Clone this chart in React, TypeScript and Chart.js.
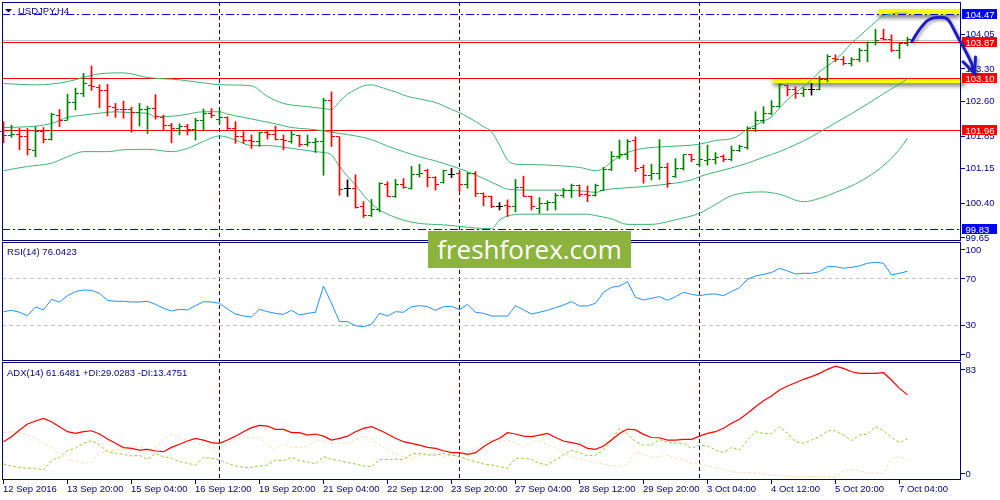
import React, { useEffect, useRef } from "react";
import { Chart, registerables } from "chart.js";

Chart.register(...registerables);

// ---------------- data ----------------
const symbolTitle = "USDJPY,H4";
const rsiTitle = "RSI(14) 76.0423";
const adxTitle = "ADX(14) 61.6481 +DI:29.0283 -DI:13.4751";
const watermark = "freshforex.com";

const xTickBars = [0, 8, 16, 24, 32, 40, 48, 56, 64, 72, 80, 88, 96, 104, 112];
const xTickLabels = [
  "12 Sep 2016", "13 Sep 20:00", "15 Sep 04:00", "16 Sep 12:00", "19 Sep 20:00",
  "21 Sep 04:00", "22 Sep 12:00", "23 Sep 20:00", "27 Sep 04:00", "28 Sep 12:00",
  "29 Sep 20:00", "3 Oct 04:00", "4 Oct 12:00", "5 Oct 20:00", "7 Oct 04:00",
];
const weekStartBars = [27, 57, 87];

const opens = [
  101.93, 101.84, 101.86, 101.82, 101.52, 101.93, 101.77, 102.29, 102.18, 102.56,
  102.76, 102.93, 102.89, 102.81, 102.46, 102.41, 102.40, 102.35, 102.40, 102.42,
  102.24, 102.07, 101.99, 102.04, 101.97, 102.17, 102.33, 102.20, 102.24, 102.00,
  101.82, 101.74, 101.72, 101.91, 101.86, 101.77, 101.72, 101.84, 101.66, 101.69,
  101.72, 102.60, 101.82, 100.71, 100.71, 100.31, 100.13, 100.25, 100.78, 100.54,
  100.80, 100.71, 101.00, 101.10, 100.94, 100.83, 101.01, 101.03, 100.78, 101.03,
  100.60, 100.53, 100.31, 100.33, 100.32, 100.73, 100.53, 100.28, 100.37, 100.40,
  100.56, 100.67, 100.76, 100.58, 100.56, 100.67, 101.12, 101.39, 101.43, 101.75,
  101.16, 100.99, 101.03, 101.16, 100.96, 101.14, 101.43, 101.23, 101.30, 101.33,
  101.39, 101.33, 101.52, 101.59, 102.00, 102.18, 102.33, 102.47, 102.92, 102.85,
  102.76, 102.84, 102.85, 103.05, 103.52, 103.48, 103.41, 103.48, 103.69, 103.85,
  103.95, 103.92, 103.69, 103.84,
];
const highs = [
  102.15, 102.07, 102.00, 102.00, 102.04, 102.02, 102.33, 102.41, 102.74, 102.87,
  103.19, 103.35, 102.94, 102.95, 102.54, 102.59, 102.46, 102.54, 102.48, 102.73,
  102.29, 102.11, 102.10, 102.09, 102.22, 102.42, 102.43, 102.40, 102.25, 102.15,
  101.93, 101.86, 101.92, 101.93, 102.05, 101.86, 101.95, 101.86, 101.86, 101.79,
  102.65, 102.79, 101.82, 100.89, 101.00, 100.42, 100.47, 100.83, 100.85, 100.90,
  100.92, 101.18, 101.23, 101.12, 100.96, 101.10, 101.14, 101.07, 101.05, 101.07,
  100.61, 100.54, 100.40, 100.46, 100.90, 100.97, 100.54, 100.51, 100.44, 100.60,
  100.71, 100.80, 100.78, 100.76, 100.80, 101.16, 101.50, 101.75, 101.76, 101.82,
  101.21, 101.23, 101.76, 101.25, 101.35, 101.44, 101.44, 101.62, 101.64, 101.48,
  101.43, 101.62, 101.64, 102.04, 102.36, 102.47, 102.60, 102.96, 102.94, 102.90,
  102.88, 102.97, 103.12, 103.59, 103.59, 103.55, 103.53, 103.73, 103.87, 104.14,
  104.14, 104.02, 103.85, 103.97,
];
const lows = [
  101.69, 101.81, 101.54, 101.43, 101.39, 101.69, 101.75, 102.04, 102.18, 102.40,
  102.69, 102.82, 102.45, 102.27, 102.24, 102.22, 101.92, 102.05, 101.89, 102.20,
  101.97, 101.69, 101.86, 101.86, 101.75, 101.97, 102.23, 102.10, 101.98, 101.68,
  101.68, 101.57, 101.61, 101.77, 101.75, 101.54, 101.68, 101.61, 101.62, 101.48,
  100.99, 101.61, 100.56, 100.53, 100.28, 100.08, 100.10, 100.20, 100.53, 100.51,
  100.71, 100.69, 100.95, 100.74, 100.67, 100.82, 100.94, 100.66, 100.71, 100.53,
  100.33, 100.29, 100.24, 100.10, 100.20, 100.53, 100.24, 100.17, 100.23, 100.24,
  100.51, 100.51, 100.53, 100.42, 100.54, 100.66, 101.09, 101.35, 101.33, 101.07,
  100.82, 100.89, 100.90, 100.73, 100.94, 101.10, 101.28, 101.19, 101.21, 101.23,
  101.28, 101.30, 101.50, 101.55, 101.93, 102.11, 102.29, 102.46, 102.70, 102.65,
  102.69, 102.72, 102.83, 103.01, 103.44, 103.37, 103.35, 103.44, 103.44, 103.80,
  103.91, 103.66, 103.51, 103.78,
];
const closes = [
  101.84, 101.86, 101.82, 101.54, 101.93, 101.77, 102.31, 102.17, 102.56, 102.76,
  102.97, 102.90, 102.82, 102.47, 102.41, 102.40, 102.35, 102.40, 102.43, 102.25,
  102.07, 101.99, 102.04, 101.98, 102.17, 102.33, 102.29, 102.23, 102.00, 101.82,
  101.74, 101.72, 101.91, 101.86, 101.77, 101.75, 101.86, 101.66, 101.69, 101.72,
  102.61, 101.82, 100.69, 100.71, 100.29, 100.13, 100.25, 100.81, 100.54, 100.80,
  100.73, 101.01, 101.03, 100.94, 100.78, 101.09, 101.01, 100.78, 101.03, 100.60,
  100.53, 100.31, 100.31, 100.32, 100.73, 100.54, 100.31, 100.38, 100.40, 100.56,
  100.67, 100.76, 100.58, 100.56, 100.76, 101.12, 101.39, 101.43, 101.71, 101.14,
  100.99, 101.03, 101.16, 100.81, 101.14, 101.43, 101.32, 101.32, 101.33, 101.37,
  101.33, 101.52, 101.62, 102.00, 102.18, 102.33, 102.47, 102.94, 102.85, 102.76,
  102.84, 102.84, 103.05, 103.55, 103.48, 103.41, 103.49, 103.69, 103.85, 103.89,
  103.92, 103.69, 103.84, 103.91,
];

// Bollinger bands read at selected bars: [bar, price]
const bbUpper: [number, number][] = [
  [0, 102.97], [4, 102.94], [6, 102.96], [8, 103.01], [10, 103.10], [12, 103.18], [15, 103.20],
  [18, 103.10], [22, 103.05], [26, 102.96], [28, 102.94], [31, 102.92], [33, 102.69], [35, 102.54],
  [38, 102.47], [40, 102.43], [41, 102.41], [42, 102.58], [43, 102.74], [44, 102.84], [45, 102.92],
  [46, 102.94], [47, 102.90], [48, 102.84], [49, 102.79], [50, 102.72], [51, 102.67], [52, 102.64],
  [53, 102.60], [54, 102.56], [55, 102.49], [56, 102.41], [57, 102.34], [58, 102.25], [59, 102.15],
  [60, 102.04], [61, 101.93], [62, 101.64], [63, 101.32], [64, 101.23], [66, 101.22], [70, 101.19],
  [72, 101.16], [74, 101.09], [75, 101.14], [76, 101.28], [77, 101.39], [78, 101.48], [80, 101.57],
  [83, 101.61], [87, 101.66], [89, 101.74], [91, 101.78], [92, 101.86], [93, 101.99], [94, 102.07],
  [95, 102.16], [96, 102.25], [97, 102.44], [98, 102.62], [99, 102.77], [100, 102.90], [101, 103.05],
  [102, 103.22], [103, 103.35], [104, 103.48], [105, 103.65], [106, 103.84], [107, 103.99],
  [108, 104.15], [109, 104.30], [110, 104.43], [111, 104.47], [112, 104.49], [113, 104.49],
];
const bbMiddle: [number, number][] = [
  [0, 102.02], [4, 102.05], [6, 102.11], [8, 102.24], [10, 102.29], [12, 102.33], [14, 102.36],
  [16, 102.34], [18, 102.33], [19, 102.25], [22, 102.28], [25, 102.36], [27, 102.36], [28, 102.31],
  [30, 102.24], [32, 102.17], [34, 102.10], [36, 102.02], [38, 101.99], [40, 101.95], [41, 101.92],
  [42, 101.89], [44, 101.84], [46, 101.76], [48, 101.62], [50, 101.50], [52, 101.39], [54, 101.30],
  [56, 101.19], [58, 101.07], [60, 100.92], [62, 100.76], [63, 100.69], [66, 100.67], [70, 100.67],
  [73, 100.64], [74, 100.62], [75, 100.67], [77, 100.71], [78, 100.72], [82, 100.78], [86, 100.89],
  [87, 100.96], [91, 101.15], [93, 101.25], [95, 101.38], [97, 101.50], [99, 101.65], [101, 101.82],
  [102, 101.92], [104, 102.12], [106, 102.32], [108, 102.53], [110, 102.75], [112, 102.96],
  [113, 103.08],
];
const bbLower: [number, number][] = [
  [0, 101.09], [3, 101.18], [6, 101.25], [8, 101.39], [10, 101.50], [13, 101.50], [15, 101.54],
  [18, 101.55], [21, 101.50], [23, 101.57], [25, 101.72], [27, 101.84], [29, 101.75], [31, 101.63],
  [33, 101.63], [36, 101.57], [39, 101.50], [40, 101.48], [41, 101.43], [42, 101.18], [43, 100.97],
  [44, 100.78], [45, 100.56], [46, 100.38], [47, 100.24], [48, 100.15], [49, 100.08], [50, 100.02],
  [52, 99.95], [55, 99.92], [58, 99.87], [60, 99.84], [61, 99.84], [62, 100.02], [63, 100.11],
  [65, 100.15], [70, 100.15], [73, 100.15], [74, 100.12], [76, 100.05], [78, 99.93], [81, 99.93],
  [82, 99.95], [84, 100.03], [87, 100.17], [89, 100.36], [91, 100.55], [95, 100.63], [97, 100.58],
  [100, 100.42], [102, 100.49], [104, 100.62], [106, 100.76], [107, 100.85], [108, 100.95],
  [110, 101.20], [112, 101.55], [113, 101.79],
];

const priceTicks = [104.05, 103.3, 102.6, 101.85, 101.15, 100.4, 99.65];
const resistanceLevels = [103.87, 103.1, 101.96];
const rangeLevels = [104.47, 99.83];

// highlighted zones (bar range, price range)
const zoneFromBar = [109.3, 96.2];
const zoneToBar = [119.56, 120.2];
const zoneHigh = [104.57, 103.1];
const zoneLow = [104.44, 102.975];

// forecast arrow (bar, price)
const arrowBars = [113.53, 114.15, 114.77, 115.4, 116.02, 116.65, 117.47, 117.9, 118.31, 118.73, 119.35, 119.98, 120.4, 121.02, 121.38];
const arrowPrices = [103.87, 104.05, 104.2, 104.32, 104.38, 104.4, 104.4, 104.38, 104.3, 104.16, 103.95, 103.76, 103.62, 103.41, 103.2];
const arrowHeadBars = [119.94, 121.38, 121.5];
const arrowHeadPrices = [103.44, 103.19, 103.54];

const rsiValues = [
  41.4, 42.6, 40.9, 38, 45.4, 42.9, 52, 49.7, 55.1, 58.6,
  60, 59.7, 57.1, 51.1, 50.3, 50.3, 49.7, 49.7, 50.3, 47.7,
  44.3, 42, 43.4, 42.9, 46.6, 50, 49.7, 48.6, 43.7, 39.4,
  37.7, 36.9, 43.4, 41.4, 40, 39.1, 42.6, 38.6, 40, 40.9,
  63.4, 48.6, 32.9, 32.9, 29.4, 28.6, 30.6, 40, 37.7, 41.4,
  40.9, 45.7, 46.6, 45.7, 42.6, 45.7, 46, 43.1, 47.7, 40.9,
  40, 37.7, 37.7, 37.7, 46.6, 42.9, 39.4, 40.9, 42.6, 44.9,
  47.1, 50, 46.3, 46.3, 48.6, 58, 62.3, 63.4, 67.1, 53.7,
  51.4, 52.9, 54.3, 51.1, 54.3, 58, 56.3, 55.1, 56.3, 56.6,
  55.1, 58.6, 62, 69.1, 72, 73.4, 74.9, 78.6, 76.3, 73.7,
  74.3, 74.3, 75.7, 80, 80, 78.6, 79.4, 80.6, 82.9, 83.7,
  82.9, 72.9, 74.3, 76.0,
];
const rsiTicks = [100, 70, 30, 0];
const rsiLevels = [70, 30];

const adxValues = [
  26.9, 30.6, 35.6, 40, 42.2, 44.2, 41.7, 38, 34.3, 33,
  34.3, 35, 32.6, 28.9, 25.7, 22.5, 22, 20.7, 21.2, 20,
  19.5, 22.7, 25, 27.4, 29.4, 28.1, 26.2, 25.7, 28.1, 31,
  34.3, 37.3, 39, 38.5, 36, 36, 33.6, 33.6, 31.8, 32.6,
  31, 28.1, 29.4, 31, 34.3, 36.8, 38, 35.6, 32.6, 29.4,
  26.9, 25.7, 24.4, 22.7, 22, 20.2, 18.8, 18.8, 17.5, 18.8,
  23.2, 26.9, 29.4, 33.6, 32.6, 31, 30.6, 31.8, 33, 30,
  27.4, 26.2, 25, 22, 21.2, 23.7, 28.1, 33, 36.3, 35.6,
  32.3, 30, 29.8, 28.1, 28.1, 28.6, 28.6, 31, 33, 34.3,
  36.8, 40.5, 43.5, 48, 52.8, 57.3, 60.7, 65.2, 68.1, 70.6,
  73.1, 75.1, 77.5, 80.5, 82.9, 81.2, 78.7, 77.5, 77.5, 77.5,
  78, 72.6, 66.4, 61.6,
];
const plusDI = [
  10.4, 8.9, 7.9, 7.2, 7.2, 5.9, 12.8, 15.3, 20.2, 22,
  25.7, 27.7, 24.4, 19.5, 18.3, 17.5, 16.3, 16.8, 13.8, 18.3,
  15.8, 14.6, 12.1, 10.9, 9.6, 15.3, 14.6, 13.3, 10.9, 8.9,
  7.9, 7.9, 8.9, 9.6, 13.3, 12.8, 15.3, 12.8, 12.1, 10.4,
  15.8, 13.8, 12.8, 11.4, 10.4, 8.9, 8.4, 13.8, 13.8, 13.8,
  13.8, 17.8, 18.3, 17, 17, 18.3, 17, 15.8, 13.8, 12.1,
  10.4, 9.6, 8.4, 7.2, 14.6, 14.6, 13.8, 10.9, 9.6, 13.3,
  17, 20.7, 18.8, 16.3, 17, 20.7, 28.1, 36.8, 32.6, 27,
  24.4, 24.4, 28.6, 26.2, 25.7, 25.7, 22, 24.4, 23.7, 20.7,
  18.8, 22.7, 20.7, 28.1, 34.3, 33, 33, 38, 33, 27,
  25.7, 28.1, 30.6, 35, 35, 31.8, 27.7, 31.8, 32.6, 38,
  35, 30, 26.2, 29.0,
];
const minusDI = [
  33.6, 34.3, 33.6, 31.8, 29.4, 26.2, 22.7, 18.3, 13.8, 12.8,
  10.9, 11.4, 18.3, 20.2, 20.7, 21.2, 23.7, 23.2, 21.2, 22.7,
  27.7, 32.6, 30, 28.1, 26.2, 24.4, 22.7, 20.7, 26.9, 28.6,
  30.6, 29.4, 30, 24.4, 20.7, 25.7, 22.7, 22.7, 23.7, 27.7,
  28.1, 25.7, 26.2, 25.7, 28.1, 31, 28.1, 24.4, 21.2, 17.8,
  15.8, 13.8, 17, 18.3, 18.3, 15.8, 17, 17, 19.5, 20.7,
  26.9, 28.1, 26.9, 28.1, 26.2, 22.7, 26.9, 27.7, 24.4, 22.7,
  18.3, 15.8, 13.8, 12.8, 11.4, 10.4, 8.9, 8.4, 10.4, 19.5,
  17.8, 15.3, 15.8, 17, 14.6, 13.3, 10.9, 10.4, 8.9, 7.9,
  6.4, 4.7, 4, 4, 3.5, 3, 2.2, 1.7, 1.5, 1,
  1, 1, 1, 1, 1, 5.4, 5.9, 5.4, 3.5, 3.5,
  3.5, 14.6, 15.8, 13.5,
];
const adxTicks = [83, 0];

// ---------------- layout & style ----------------
const W = 1000;
const AXIS_W = 40;
const PLOT_LEFT = 2;
const BAR_PX = 8;
const X_MIN = -1.5 / BAR_PX;
const X_MAX = X_MIN + (W - AXIS_W - PLOT_LEFT) / BAR_PX;

const PRICE_MAX = 104.729;
const PRICE_MIN = 99.5715;
const RSI_MAX = 101.09;
const RSI_MIN = -0.84;
const ADX_MAX = 85.93;
const ADX_MIN = -1.48;

const NAVY = "#000080";
const GREEN = "#008000";
const RED = "#ff0000";
const BLUE = "#0000ff";
const BB_COLOR = "#3cb371";
const FONT = "9.5px 'Liberation Sans', Arial, sans-serif";
const DASHDOT = [8, 3, 2, 3];

const barColors = opens.map((o, i) => (closes[i] > o ? GREEN : closes[i] < o ? RED : "#000000"));

// pixel-row snapping for level lines and boxes
const snap = (v: number) => Math.round(v + 0.1);

function hline(ctx: CanvasRenderingContext2D, x1: number, x2: number, yv: number, color: string, dash: number[]) {
  const row = snap(yv);
  ctx.save();
  if (dash.length === 0) {
    ctx.fillStyle = color;
    ctx.fillRect(x1, row, x2 - x1, 1);
  } else {
    ctx.strokeStyle = color;
    ctx.lineWidth = 1;
    ctx.setLineDash(dash);
    ctx.beginPath();
    ctx.moveTo(x1, row + 0.5);
    ctx.lineTo(x2, row + 0.5);
    ctx.stroke();
  }
  ctx.restore();
}

function drawSeparators(chart: any) {
  const { ctx, chartArea: a } = chart;
  const x = chart.scales.x;
  ctx.save();
  ctx.strokeStyle = NAVY;
  ctx.lineWidth = 1;
  ctx.setLineDash([4, 3]);
  for (const b of weekStartBars) {
    const px = Math.floor(x.getPixelForValue(b)) + 0.5;
    ctx.beginPath();
    ctx.moveTo(px, a.top);
    ctx.lineTo(px, a.bottom);
    ctx.stroke();
  }
  ctx.restore();
}

function drawFrame(chart: any) {
  const { ctx, chartArea: a } = chart;
  ctx.save();
  ctx.strokeStyle = NAVY;
  ctx.lineWidth = 1;
  ctx.setLineDash([]);
  ctx.strokeRect(a.left + 0.5, a.top + 0.5, a.right - a.left, a.bottom - a.top - 1);
  ctx.restore();
}

function drawAxisLabel(ctx: CanvasRenderingContext2D, a: any, yy: number, text: string) {
  ctx.fillStyle = NAVY;
  ctx.fillRect(a.right + 1, snap(yy), 4, 1);
  ctx.fillText(text, a.right + 5.5, yy + 3.5);
}

function drawTitle(ctx: CanvasRenderingContext2D, text: string, x: number, baseline: number) {
  ctx.save();
  ctx.font = FONT;
  ctx.fillStyle = NAVY;
  ctx.textAlign = "left";
  ctx.fillText(text, x, baseline);
  ctx.restore();
}

const mainDeco = {
  id: "mainDeco",
  beforeDatasetsDraw(chart: any) {
    const { ctx, chartArea: a } = chart;
    const x = chart.scales.x;
    const y = chart.scales.y;
    for (let k = 0; k < zoneHigh.length; k++) {
      const x1 = x.getPixelForValue(zoneFromBar[k]);
      const x2 = x.getPixelForValue(zoneToBar[k]);
      const y1 = snap(y.getPixelForValue(zoneHigh[k]));
      const y2 = snap(y.getPixelForValue(zoneLow[k]));
      ctx.save();
      ctx.shadowColor = "rgba(0,0,0,0.5)";
      ctx.shadowBlur = 4;
      ctx.shadowOffsetY = 3;
      ctx.fillStyle = "#ffff00";
      ctx.fillRect(x1, y1, x2 - x1, y2 - y1);
      ctx.restore();
    }
    drawSeparators(chart);
    hline(ctx, a.left, a.right, y.getPixelForValue(closes[closes.length - 1]), "#c0c0c0", []);
    for (const v of rangeLevels) hline(ctx, a.left, a.right, y.getPixelForValue(v), BLUE, DASHDOT);
    for (const v of resistanceLevels) hline(ctx, a.left, a.right, y.getPixelForValue(v), RED, []);
  },
  afterDatasetsDraw(chart: any) {
    const { ctx, chartArea: a } = chart;
    const x = chart.scales.x;
    const y = chart.scales.y;
    ctx.save();
    for (let i = 0; i < opens.length; i++) {
      const col = Math.floor(x.getPixelForValue(i));
      ctx.fillStyle = barColors[i];
      ctx.fillRect(col - 3, Math.floor(y.getPixelForValue(opens[i])), 3, 1);
      ctx.fillRect(col + 1, Math.floor(y.getPixelForValue(closes[i])), 3, 1);
    }
    ctx.restore();
    drawFrame(chart);
    ctx.save();
    ctx.font = FONT;
    ctx.textAlign = "left";
    for (const t of priceTicks) drawAxisLabel(ctx, a, y.getPixelForValue(t), t.toFixed(2));
    const boxes: [number, string][] = [
      ...rangeLevels.map((v) => [v, BLUE] as [number, string]),
      ...resistanceLevels.map((v) => [v, RED] as [number, string]),
    ];
    for (const [v, color] of boxes) {
      const row = snap(y.getPixelForValue(v));
      ctx.fillStyle = color;
      ctx.fillRect(a.right + 2, row - 5, 35, 10);
      ctx.fillStyle = "#ffffff";
      ctx.fillText(v.toFixed(2), a.right + 5.5, row + 3.5);
    }
    ctx.restore();
    ctx.save();
    ctx.fillStyle = NAVY;
    ctx.beginPath();
    ctx.moveTo(5, 9);
    ctx.lineTo(12, 9);
    ctx.lineTo(8.5, 12.5);
    ctx.closePath();
    ctx.fill();
    ctx.restore();
    drawTitle(ctx, symbolTitle, 18, 14);
    // forecast arrow
    ctx.save();
    ctx.strokeStyle = "#1c1cc8";
    ctx.lineWidth = 3;
    ctx.lineCap = "round";
    ctx.lineJoin = "round";
    ctx.shadowColor = "rgba(0,0,0,0.3)";
    ctx.shadowBlur = 3;
    ctx.shadowOffsetX = 2;
    ctx.shadowOffsetY = 2;
    ctx.beginPath();
    const pts = arrowBars.map((b, i) => [x.getPixelForValue(b), y.getPixelForValue(arrowPrices[i])]);
    ctx.moveTo(pts[0][0], pts[0][1]);
    for (let i = 1; i < pts.length - 1; i++) {
      const mx = (pts[i][0] + pts[i + 1][0]) / 2;
      const my = (pts[i][1] + pts[i + 1][1]) / 2;
      ctx.quadraticCurveTo(pts[i][0], pts[i][1], mx, my);
    }
    ctx.lineTo(pts[pts.length - 1][0], pts[pts.length - 1][1]);
    ctx.stroke();
    ctx.beginPath();
    arrowHeadBars.forEach((b, i) => {
      const px = x.getPixelForValue(b);
      const py = y.getPixelForValue(arrowHeadPrices[i]);
      if (i === 0) ctx.moveTo(px, py);
      else ctx.lineTo(px, py);
    });
    ctx.stroke();
    ctx.restore();
  },
};

const rsiDeco = {
  id: "rsiDeco",
  beforeDatasetsDraw(chart: any) {
    const { ctx, chartArea: a } = chart;
    const y = chart.scales.y;
    drawSeparators(chart);
    for (const v of rsiLevels) hline(ctx, a.left, a.right, y.getPixelForValue(v), "#c0c0c0", [4, 3]);
  },
  afterDatasetsDraw(chart: any) {
    const { ctx, chartArea: a } = chart;
    const y = chart.scales.y;
    drawFrame(chart);
    ctx.save();
    ctx.font = FONT;
    ctx.textAlign = "left";
    for (const t of rsiTicks) {
      const yy = Math.min(Math.max(y.getPixelForValue(t), a.top + 7), a.bottom - 7);
      drawAxisLabel(ctx, a, yy, String(t));
    }
    ctx.restore();
    drawTitle(ctx, rsiTitle, 7, 13.5);
  },
};

const adxDeco = {
  id: "adxDeco",
  beforeDatasetsDraw(chart: any) {
    drawSeparators(chart);
  },
  afterDatasetsDraw(chart: any) {
    const { ctx, chartArea: a } = chart;
    const x = chart.scales.x;
    const y = chart.scales.y;
    drawFrame(chart);
    ctx.save();
    ctx.font = FONT;
    ctx.textAlign = "left";
    for (const t of adxTicks) {
      const yy = Math.min(Math.max(y.getPixelForValue(t), a.top + 7), a.bottom - 7);
      drawAxisLabel(ctx, a, yy, String(t));
    }
    ctx.fillStyle = NAVY;
    xTickBars.forEach((b, k) => {
      const px = Math.floor(x.getPixelForValue(b));
      ctx.fillRect(px, a.bottom, 1, 4);
      ctx.fillText(xTickLabels[k], px, a.bottom + 12);
    });
    ctx.restore();
    drawTitle(ctx, adxTitle, 7, 15);
  },
};

function makeChart(canvas: HTMLCanvasElement, datasets: any[], yMin: number, yMax: number, padding: any, plugin: any) {
  return new Chart(canvas, {
    type: "line",
    data: { datasets },
    options: {
      animation: false,
      responsive: false,
      devicePixelRatio: 1,
      events: [],
      layout: { padding },
      plugins: { legend: { display: false }, tooltip: { enabled: false } },
      scales: {
        x: { type: "linear", min: X_MIN, max: X_MAX, bounds: "data", offset: false, display: false },
        y: { type: "linear", min: yMin, max: yMax, bounds: "data", display: false },
      },
    } as any,
    plugins: [plugin],
  });
}

const lineDs = (data: { x: number; y: number }[], color: string, extra: any = {}) => ({
  type: "line",
  data,
  borderColor: color,
  borderWidth: 1,
  pointRadius: 0,
  fill: false,
  tension: 0,
  ...extra,
});

const perBar = (vals: number[]) => vals.map((v, i) => ({ x: i, y: v }));
const pairs = (vals: [number, number][]) => vals.map(([b, v]) => ({ x: b, y: v }));

export default function App() {
  const mainRef = useRef<HTMLCanvasElement>(null);
  const rsiRef = useRef<HTMLCanvasElement>(null);
  const adxRef = useRef<HTMLCanvasElement>(null);

  useEffect(() => {
    const main = makeChart(
      mainRef.current!,
      [
        {
          type: "bar",
          data: highs.map((h, i) => ({ x: i, y: [lows[i], h] })),
          backgroundColor: barColors,
          borderWidth: 0,
          barThickness: 1,
        },
        lineDs(pairs(bbUpper), BB_COLOR, { cubicInterpolationMode: "monotone" }),
        lineDs(pairs(bbMiddle), BB_COLOR, { cubicInterpolationMode: "monotone" }),
        lineDs(pairs(bbLower), BB_COLOR, { cubicInterpolationMode: "monotone" }),
      ],
      PRICE_MIN,
      PRICE_MAX,
      { left: PLOT_LEFT, right: AXIS_W, top: 2, bottom: 0 },
      mainDeco
    );
    const rsi = makeChart(
      rsiRef.current!,
      [lineDs(perBar(rsiValues), "#1e90ff")],
      RSI_MIN,
      RSI_MAX,
      { left: PLOT_LEFT, right: AXIS_W, top: 1, bottom: 0 },
      rsiDeco
    );
    const adx = makeChart(
      adxRef.current!,
      [
        lineDs(perBar(adxValues), "#ff0000", { borderWidth: 1.2 }),
        lineDs(perBar(plusDI), "#9acd32", { borderDash: [3, 2] }),
        lineDs(perBar(minusDI), "#f5deb3", { borderDash: [3, 2] }),
      ],
      ADX_MIN,
      ADX_MAX,
      { left: PLOT_LEFT, right: AXIS_W, top: 1, bottom: 20 },
      adxDeco
    );
    return () => {
      main.destroy();
      rsi.destroy();
      adx.destroy();
    };
  }, []);

  return (
    <div style={{ position: "fixed", left: 0, top: 0, width: W, height: 500, background: "#ffffff", overflow: "hidden" }}>
      <canvas ref={mainRef} width={W} height={241} style={{ position: "absolute", left: 0, top: 0 }} />
      <canvas ref={rsiRef} width={W} height={120} style={{ position: "absolute", left: 0, top: 241 }} />
      <canvas ref={adxRef} width={W} height={139} style={{ position: "absolute", left: 0, top: 361 }} />
      <div
        style={{
          position: "absolute",
          left: 428,
          top: 231,
          width: 203,
          height: 37,
          background: "#8db33f",
          color: "#ffffff",
          fontFamily: "'Open Sans', sans-serif",
          fontSize: 26,
          lineHeight: "37px",
          textAlign: "center",
          whiteSpace: "nowrap",
        }}
      >
        {watermark}
      </div>
    </div>
  );
}
